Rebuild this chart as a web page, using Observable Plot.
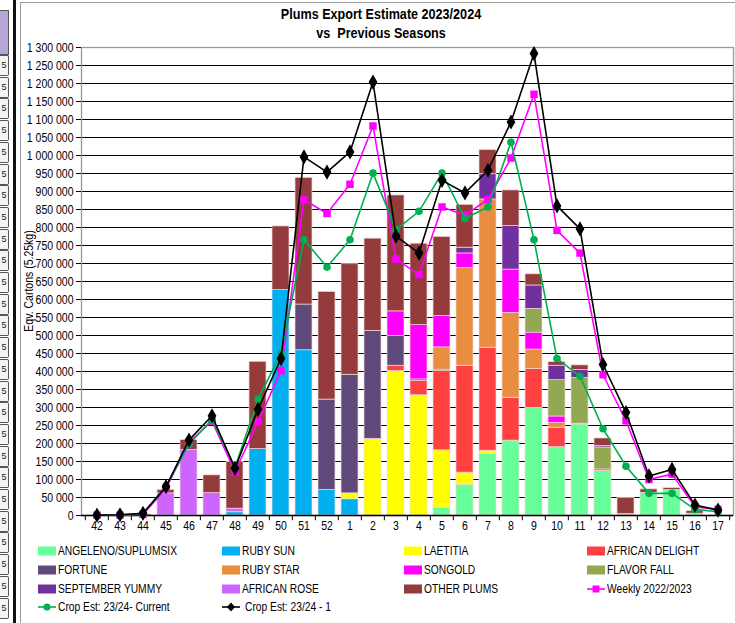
<!DOCTYPE html>
<html>
<head>
<meta charset="utf-8">
<script src="https://cdn.jsdelivr.net/npm/d3@7"></script>
<script src="https://cdn.jsdelivr.net/npm/@observablehq/plot@0.6"></script>
<style>
  html, body { margin: 0; padding: 0; background: #fff; width: 735px; height: 623px; overflow: hidden; }
  body { position: relative; font-family: "Liberation Sans", Arial, sans-serif; }
  .abs { position: absolute; }
  #strip { left: 0; top: 0; width: 10px; height: 623px; }
  .cell { position: absolute; left: 0; width: 8px; height: 19px; border: 1px solid #555; border-left: none; border-radius: 0 2px 2px 0; background: #f4f4f6; font-size: 9px; line-height: 19px; color: #222; text-align: center; }
  #vline { left: 13px; top: 0; width: 3px; height: 623px; background: #111; }
  #frame { left: 20px; top: 2px; width: 720px; height: 630px; border-left: 1px solid #9a9a9a; border-top: 1px solid #9a9a9a; }
  #title { left: 230px; width: 302px; top: 4px; text-align: center; font-weight: bold; font-size: 15px; line-height: 19px; color: #000; transform: scaleX(0.84); transform-origin: 151px 0; }
  #ylabel { left: 29px; top: 281px; transform: translate(-50%, -50%) rotate(-90deg) scaleX(0.84); white-space: nowrap; font-size: 12.5px; color: #000; z-index: 5; }
  #chart { left: 20px; top: 40px; }
  .leg { position: absolute; font-size: 12.5px; white-space: nowrap; color: #000; display: flex; align-items: center; height: 16px; }
  .leg svg { margin-right: 2px; flex: none; }
  .leg span { display: inline-block; transform: scaleX(0.82); transform-origin: 0 50%; }
</style>
</head>
<body>
<div id="strip" class="abs"></div>
<div id="vline" class="abs"></div>
<div id="frame" class="abs"></div>
<div id="title" class="abs">Plums Export Estimate 2023/2024<br>vs&nbsp; Previous Seasons</div>
<div id="chart" class="abs"></div>
<div id="ylabel" class="abs">Eqv. Cartons (5.25kg)</div>
<div id="legend"></div>
<script>
// ---------------- DATA ----------------
const weeks = ["42","43","44","45","46","47","48","49","50","51","52","1","2","3","4","5","6","7","8","9","10","11","12","13","14","15","16","17"];

const varieties = ["ANGELENO/SUPLUMSIX","RUBY SUN","LAETITIA","AFRICAN DELIGHT","FORTUNE","RUBY STAR","SONGOLD","FLAVOR FALL","SEPTEMBER YUMMY","AFRICAN ROSE","OTHER PLUMS"];
const varietyColors = ["#66ff99","#00b0f0","#ffff00","#ff4040","#604a7b","#e98d40","#ff00ff","#92a853","#7030a0","#cc66ff","#943c3c"];

//                      42 43 44 45 46 47 48 49 50 51 52 | 1 2 3 4 5 6 7 8 9 10 11 12 13 14 15 16 17
const angeleno       = [0,0,0,0,0,0,0,0,0,0,0, 0,0,0,0,21700,84600,171500,208000,299000,190000,253000,124000,1000,63000,70800,5000,0];
const rubySun        = [0,0,0,0,0,0,9000,184500,626000,459000,71000, 45000,0,0,0,0,0,0,0,0,0,0,0,0,0,0,0,0];
const laetitia       = [0,0,0,0,0,0,0,0,0,0,0, 16500,213000,401000,334000,159300,34400,8500,0,0,0,0,0,0,0,0,0,0];
const africanDelight = [0,0,0,0,0,0,0,0,0,0,0, 0,0,15000,40000,220000,297000,286000,119000,108000,54000,2000,4000,0,0,0,0,0];
const fortune        = [0,0,0,0,0,0,0,0,0,127000,251000, 329500,300000,83000,4000,4000,0,0,0,0,0,0,0,0,0,0,0,0];
const rubyStar       = [0,0,0,0,0,0,0,0,0,0,0, 0,0,0,0,62000,271000,412000,236000,54000,13000,0,0,0,0,0,0,0];
const songold        = [0,0,0,0,0,0,0,0,0,0,0, 0,0,68000,151000,87000,41000,0,120000,47000,18000,0,0,0,0,0,0,0];
const flavorFall     = [0,0,0,0,0,0,0,0,0,0,0, 0,0,0,0,0,0,0,0,66000,101000,127000,61000,3000,0,0,0,0];
const septemberYummy = [0,0,0,0,0,0,0,0,0,0,0, 0,0,0,0,0,16000,70000,121000,65000,40000,22000,4000,0,0,0,0,0];
const africanRose    = [0,0,0,61500,182000,62000,10000,0,0,0,0, 0,0,0,0,0,0,0,0,0,0,0,0,0,0,0,0,0];
const otherPlums     = [0,0,3000,9300,27500,49500,130000,242500,177000,352000,299000, 307000,256000,322000,226000,220000,119000,67000,99000,31000,10000,13000,21000,45000,9600,5200,7000,0];

const weekly2223   = [1000,1000,3000,75000,203000,262000,121500,260000,402000,877000,839000, 920000,1082000,712000,669000,857000,834000,878000,993000,1170000,792000,729000,391000,263000,100000,115000,24000,17000];
const cropCurrent  = [1000,1000,6000,81500,198000,267000,133000,323000,450000,766000,690000, 766000,951000,794000,845000,951000,825000,857000,1037000,766000,436000,387000,241000,137000,61500,61500,17000,10500];
const cropPrev     = [1000,2000,6000,80000,209500,277000,131000,295000,436000,996000,954000, 1010000,1204000,776000,729000,931000,896000,959000,1093000,1283000,860000,796000,419500,286000,110000,128000,29000,15000];

const lineNames = ["Weekly 2022/2023","Crop Est: 23/24- Current","Crop Est: 23/24 - 1"];
const yTicks = d3.range(0, 1300001, 50000);

// ---------------- BUILD ----------------
const seriesArrays = [angeleno, rubySun, laetitia, africanDelight, fortune, rubyStar, songold, flavorFall, septemberYummy, africanRose, otherPlums];
const barRows = [];
varieties.forEach((v, vi) => {
  weeks.forEach((w, wi) => {
    const val = seriesArrays[vi][wi];
    if (val > 0) barRows.push({week: w, variety: v, value: val});
  });
});
const toRows = arr => weeks.map((w, i) => ({week: w, value: arr[i]}));
const weeklyRows = toRows(weekly2223);
const currentRows = toRows(cropCurrent);
const prevRows = toRows(cropPrev);

const W = 715, H = 500, mL = 61, mR = 2, mT = 7, mB = 25;
const step = (W - mL - mR) / weeks.length;
const fmt = d => d3.format(",")(d).replace(/,/g, " ");

const chart = Plot.plot({
  width: W, height: H,
  marginLeft: mL, marginRight: mR, marginTop: mT, marginBottom: mB,
  style: {fontFamily: '"Liberation Sans", Arial, sans-serif', fontSize: "12.5px", color: "#000", background: "transparent", overflow: "visible"},
  x: {type: "band", domain: weeks, paddingInner: 0.26, paddingOuter: 0.13, label: null},
  y: {domain: [0, 1300000], label: null},
  color: {domain: varieties, range: varietyColors},
  marks: [
    Plot.gridY(yTicks, {stroke: "#000", strokeOpacity: 1, strokeWidth: 1.2}),
    Plot.barY(barRows, Plot.stackY({order: null}, {x: "week", y: "value", fill: "variety", z: "variety", stroke: "#f3d6d6", strokeWidth: 0.7})),
    Plot.frame({stroke: "#9a9a9a", strokeWidth: 1.3}),
    Plot.ruleY([0], {stroke: "#000", strokeWidth: 1.3}),
    Plot.ruleX(weeks, {x: d => d, y1: 0, y2: -14500, dx: -step / 2, stroke: "#000"}),
    Plot.ruleX([weeks[weeks.length - 1]], {x: d => d, y1: 0, y2: -14500, dx: step / 2, stroke: "#000"}),
    Plot.axisY(yTicks, {tickFormat: fmt, tickSize: 5, tickPadding: 3, label: null, fontSize: 12.5}),
    Plot.axisX({tickSize: 0, tickPadding: 6, label: null, fontSize: 12.5}),
    Plot.line(weeklyRows, {x: "week", y: "value", stroke: "#ff00ff", strokeWidth: 1.6}),
    Plot.dot(weeklyRows, {x: "week", y: "value", symbol: "square", r: 4.2, fill: "#ff00ff", stroke: "none"}),
    Plot.line(currentRows, {x: "week", y: "value", stroke: "#00b050", strokeWidth: 1.6}),
    Plot.dot(currentRows, {x: "week", y: "value", symbol: "circle", r: 3.8, fill: "#00b050", stroke: "none"}),
    Plot.line(prevRows, {x: "week", y: "value", stroke: "#000", strokeWidth: 1.6}),
    Plot.dot(prevRows, {x: "week", y: "value", symbol: "diamond", r: 4.6, fill: "#000", stroke: "none"})
  ]
});
document.getElementById("chart").appendChild(chart);

// condense tick labels (narrow typeface look)
chart.querySelectorAll("text").forEach(t => {
  const len = t.getComputedTextLength();
  if (len > 0) {
    t.setAttribute("textLength", (len * 0.84).toFixed(2));
    t.setAttribute("lengthAdjust", "spacingAndGlyphs");
  }
});

// ---------------- LEGEND ----------------
const legend = document.getElementById("legend");
const colX = [38, 222, 404, 587];
const rowY = [543, 562, 581, 599];
const legendItems = varieties.map((v, i) => ({name: v, type: "bar", color: varietyColors[i]}))
  .concat([
    {name: lineNames[0], type: "line", color: "#ff00ff", sym: "square"},
    {name: lineNames[1], type: "line", color: "#00b050", sym: "circle"},
    {name: lineNames[2], type: "line", color: "#000", sym: "diamond"}
  ]);
legendItems.forEach((it, i) => {
  const col = i % 4, row = Math.floor(i / 4);
  const d = document.createElement("div");
  d.className = "leg";
  d.style.left = colX[col] + "px";
  d.style.top = rowY[row] + "px";
  let sw;
  if (it.type === "bar") {
    sw = `<svg width="18" height="10"><rect x="0" y="0.5" width="18" height="9" fill="${it.color}"/></svg>`;
  } else {
    let m;
    if (it.sym === "square") m = `<rect x="5.5" y="1.5" width="7" height="7" fill="${it.color}"/>`;
    else if (it.sym === "circle") m = `<circle cx="9" cy="5" r="3.6" fill="${it.color}"/>`;
    else m = `<path d="M9 0.5 L13 5 L9 9.5 L5 5 Z" fill="${it.color}"/>`;
    sw = `<svg width="18" height="10"><line x1="0" x2="18" y1="5" y2="5" stroke="${it.color}" stroke-width="1.6"/>${m}</svg>`;
  }
  d.innerHTML = sw + `<span>${it.name}</span>`;
  if (i === 13) d.querySelector("svg").style.marginRight = "5px";
  legend.appendChild(d);
});

// ---------------- LEFT SPREADSHEET STRIP ----------------
const strip = document.getElementById("strip");
const head = document.createElement("div");
head.style.cssText = "position:absolute;left:0;top:10px;width:8px;height:43px;background:#b4a7d6;border:1px solid #555;border-left:none;";
strip.appendChild(head);
for (let y = 55; y + 21 < 623; y += 21.7) {
  const c = document.createElement("div");
  c.className = "cell";
  c.style.top = y + "px";
  c.textContent = "5";
  strip.appendChild(c);
}
</script>
</body>
</html>
